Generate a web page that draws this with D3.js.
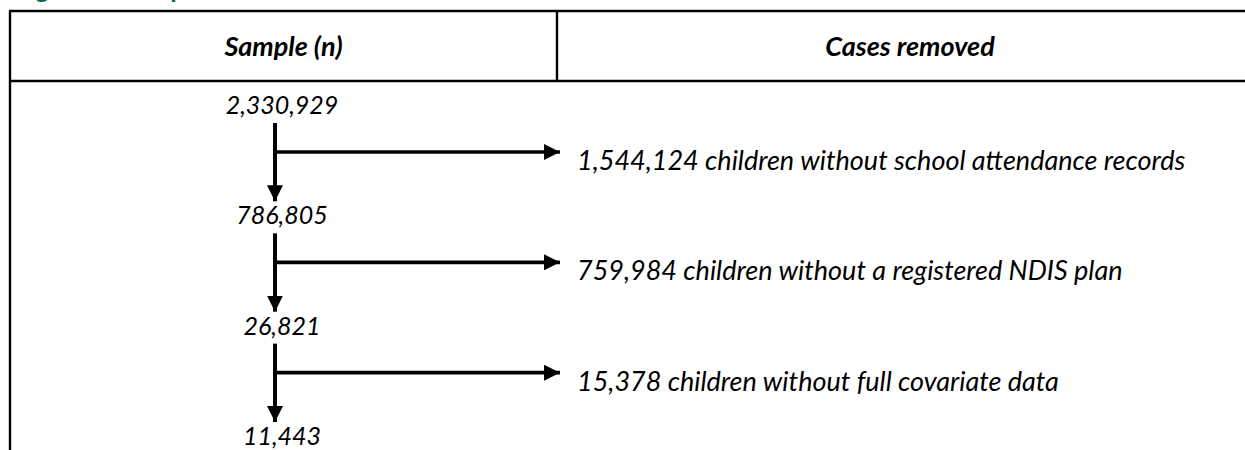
<!DOCTYPE html>
<html>
<head>
<meta charset="utf-8">
<script src="https://cdn.jsdelivr.net/npm/d3@7"></script>
<style>
  html, body { margin: 0; padding: 0; background: #ffffff; }
  svg { display: block; }
  text { font-family: "Lato", "Open Sans", sans-serif; }
</style>
</head>
<body>
<script>
// ---- data ----
const titleText = "Figure 1: Sample selection";
const headers = ["Sample (n)", "Cases removed"];
const sampleCounts = [2330929, 786805, 26821, 11443];
const removedCounts = [1544124, 759984, 15378];
const removedReasons = [
  "children without school attendance records",
  "children without a registered NDIS plan",
  "children without full covariate data"
];

// ---- layout ----
const W = 1245, H = 450;
const fmt = d3.format(",");
const svg = d3.select("body").append("svg").attr("width", W).attr("height", H);

const tableLeft = 10, tableTop = 11, headerBottom = 81, divider = 557, tableRight = 1300;
const colCentre = [ (tableLeft + divider) / 2, 910 ];

// step positions (baseline of each sample count)
const y = d3.scalePoint().domain(d3.range(sampleCounts.length)).range([114, 445]);
const flowX = 275, arrowTipX = 560, labelX = 577;

// title (mostly cropped above the frame, as in the source page)
svg.append("text")
  .attr("x", 14).attr("y", -2)
  .attr("fill", "#0d6b4c")
  .attr("font-weight", 700)
  .attr("font-size", 26)
  .text(titleText);

// table frame
const g = svg.append("g").attr("stroke", "#000").attr("stroke-width", 2.4).attr("fill", "none");
g.append("line").attr("x1", tableLeft - 1).attr("x2", tableRight).attr("y1", tableTop).attr("y2", tableTop);
g.append("line").attr("x1", tableLeft - 1).attr("x2", tableRight).attr("y1", headerBottom).attr("y2", headerBottom);
g.append("line").attr("x1", tableLeft).attr("x2", tableLeft).attr("y1", tableTop).attr("y2", H + 5);
g.append("line").attr("x1", divider).attr("x2", divider).attr("y1", tableTop).attr("y2", headerBottom);

// headers
svg.selectAll("text.hdr").data(headers).join("text")
  .attr("class", "hdr")
  .attr("x", (d, i) => colCentre[i])
  .attr("y", 56)
  .attr("text-anchor", "middle")
  .attr("font-size", 27)
  .attr("font-weight", 700)
  .attr("font-style", "italic")
  .attr("fill", "#000")
  .text(d => d);

// arrowhead marker
const defs = svg.append("defs");
defs.append("marker")
  .attr("id", "ah")
  .attr("viewBox", "0 0 16 16")
  .attr("refX", 16).attr("refY", 8)
  .attr("markerWidth", 16).attr("markerHeight", 16)
  .attr("markerUnits", "userSpaceOnUse")
  .attr("orient", "auto")
  .append("path").attr("d", "M0,0 L16,8 L0,16 Z").attr("fill", "#000");

// sample counts
svg.selectAll("text.n").data(sampleCounts).join("text")
  .attr("class", "n")
  .attr("x", flowX + 7)
  .attr("y", (d, i) => y(i))
  .attr("text-anchor", "middle")
  .attr("font-size", 25)
  .attr("font-style", "italic")
  .attr("fill", "#000")
  .text(d => fmt(d));

// flow arrows
const steps = removedCounts.map((d, i) => ({ count: d, reason: removedReasons[i], i }));
const flow = svg.append("g");
flow.selectAll("line.down").data(steps).join("line")
  .attr("class", "down")
  .attr("x1", flowX).attr("x2", flowX)
  .attr("y1", d => y(d.i) + 9)
  .attr("y2", d => y(d.i + 1) - 23)
  .attr("stroke", "#000").attr("stroke-width", 4)
  .attr("marker-end", "url(#ah)");
flow.selectAll("line.side").data(steps).join("line")
  .attr("class", "side")
  .attr("x1", flowX).attr("x2", arrowTipX)
  .attr("y1", d => y(d.i) + 38)
  .attr("y2", d => y(d.i) + 38)
  .attr("stroke", "#000").attr("stroke-width", 3.6)
  .attr("marker-end", "url(#ah)");

// removal labels
svg.selectAll("text.rm").data(steps).join("text")
  .attr("class", "rm")
  .attr("x", labelX)
  .attr("y", d => y(d.i) + 56)
  .attr("font-size", 27)
  .attr("font-style", "italic")
  .attr("fill", "#000")
  .text(d => fmt(d.count) + " " + d.reason);
</script>
</body>
</html>
